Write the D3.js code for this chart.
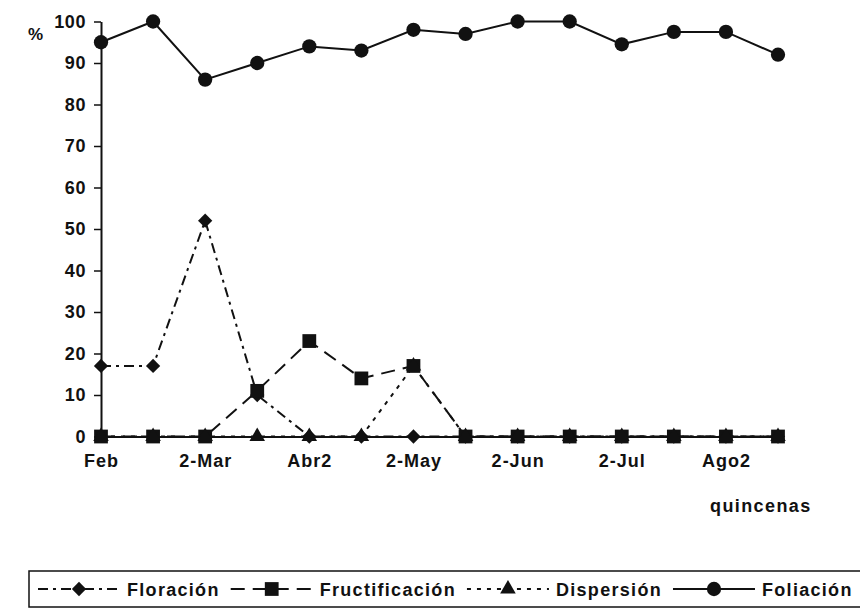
<!DOCTYPE html>
<html>
<head>
<meta charset="utf-8">
<script src="https://cdn.jsdelivr.net/npm/d3@7"></script>
<style>
  body { margin: 0; background: #fff; }
  svg { display: block; }
  text { font-family: "Liberation Sans", Arial, sans-serif; font-weight: bold; fill: #111; }
</style>
</head>
<body>
<div id="chart"></div>
<script>
// quincenas (half-months); only every other one is labelled on the axis
const quincenas = ['Feb', 'Mar', '2-Mar', 'Abr', 'Abr2', 'May', '2-May', 'Jun', '2-Jun', 'Jul', '2-Jul', 'Ago', 'Ago2', 'Sep'];
const tickLabels = ['Feb', '2-Mar', 'Abr2', '2-May', '2-Jun', '2-Jul', 'Ago2'];
const yTicks = [0, 10, 20, 30, 40, 50, 60, 70, 80, 90, 100];

const floracion      = [17, 17, 52, 10, 0, 0, 0, 0, 0, 0, 0, 0, 0, 0];
const fructificacion = [0, 0, 0, 11, 23, 14, 17, 0, 0, 0, 0, 0, 0, 0];
const dispersion     = [0, 0, 0, 0, 0, 0, 17, 0, 0, 0, 0, 0, 0, 0];
const foliacion      = [95, 100, 86, 90, 94, 93, 98, 97, 100, 100, 94.5, 97.5, 97.5, 92];

const seriesNames = ['Floración', 'Fructificación', 'Dispersión', 'Foliación'];

const width = 860, height = 612;
const svg = d3.select('#chart').append('svg').attr('width', width).attr('height', height);

const x = d3.scalePoint().domain(quincenas).range([101, 778]);
const y = d3.scaleLinear().domain([0, 100]).range([436.5, 21.5]);

const series = [
  {name: seriesNames[0], values: floracion, dash: '10,5,3,5', symbol: d3.symbolDiamond2, size: 130},
  {name: seriesNames[1], values: fructificacion, dash: '14,8', symbol: d3.symbolSquare, size: 190},
  {name: seriesNames[2], values: dispersion, dash: '4,6', symbol: d3.symbolTriangle, size: 105},
  {name: seriesNames[3], values: foliacion, dash: null, symbol: d3.symbolCircle, size: 160}
];

// axes
const yAxis = svg.append('g')
  .attr('transform', `translate(${x.range()[0]},0)`)
  .call(d3.axisLeft(y).tickValues(yTicks).tickSize(7).tickSizeOuter(0).tickPadding(8));
yAxis.select('.domain').attr('stroke', '#111').attr('stroke-width', 2);
yAxis.selectAll('.tick line').attr('stroke', '#111').attr('stroke-width', 1.5);
yAxis.selectAll('.tick text').style('font-size', '18px').style('letter-spacing', '0.6px').attr('fill', '#111');

const xAxis = svg.append('g')
  .attr('transform', `translate(0,${y(0)})`)
  .call(d3.axisBottom(x).tickValues(tickLabels).tickSize(0).tickSizeOuter(0).tickPadding(18));
xAxis.select('.domain').attr('stroke', '#111').attr('stroke-width', 2);
xAxis.selectAll('.tick text').style('font-size', '18px').style('letter-spacing', '1px').attr('fill', '#111');

svg.append('text').attr('x', 28).attr('y', 40).style('font-size', '17px').text('%');
svg.append('text').attr('x', 710).attr('y', 512).style('font-size', '18px').style('letter-spacing', '1.4px').text('quincenas');

// lines and markers
const line = d3.line().x((d, i) => x(quincenas[i])).y(d => y(d));
const gSeries = svg.append('g');
series.forEach(s => {
  gSeries.append('path')
    .attr('d', line(s.values))
    .attr('fill', 'none')
    .attr('stroke', '#111')
    .attr('stroke-width', 2)
    .attr('stroke-dasharray', s.dash);
});
series.forEach(s => {
  gSeries.selectAll(null).data(s.values).join('path')
    .attr('transform', (d, i) => `translate(${x(quincenas[i])},${y(d)})`)
    .attr('d', d3.symbol().type(s.symbol).size(s.size))
    .attr('fill', '#111');
});

// legend
const legend = svg.append('g');
legend.append('rect')
  .attr('x', 29).attr('y', 571).attr('width', 832).attr('height', 36)
  .attr('fill', 'none').attr('stroke', '#111').attr('stroke-width', 1.5);
let lx = 38;
const ly = 589;
series.forEach(s => {
  legend.append('line')
    .attr('x1', lx).attr('x2', lx + 82).attr('y1', ly).attr('y2', ly)
    .attr('stroke', '#111').attr('stroke-width', 2)
    .attr('stroke-dasharray', s.dash);
  legend.append('path')
    .attr('transform', `translate(${lx + 41},${ly})`)
    .attr('d', d3.symbol().type(s.symbol).size(s.size))
    .attr('fill', '#111');
  const t = legend.append('text')
    .attr('x', lx + 89).attr('y', ly + 6.5)
    .style('font-size', '18px').style('letter-spacing', '1.3px')
    .text(s.name);
  lx = lx + 89 + t.node().getComputedTextLength() + 11;
});
</script>
</body>
</html>
